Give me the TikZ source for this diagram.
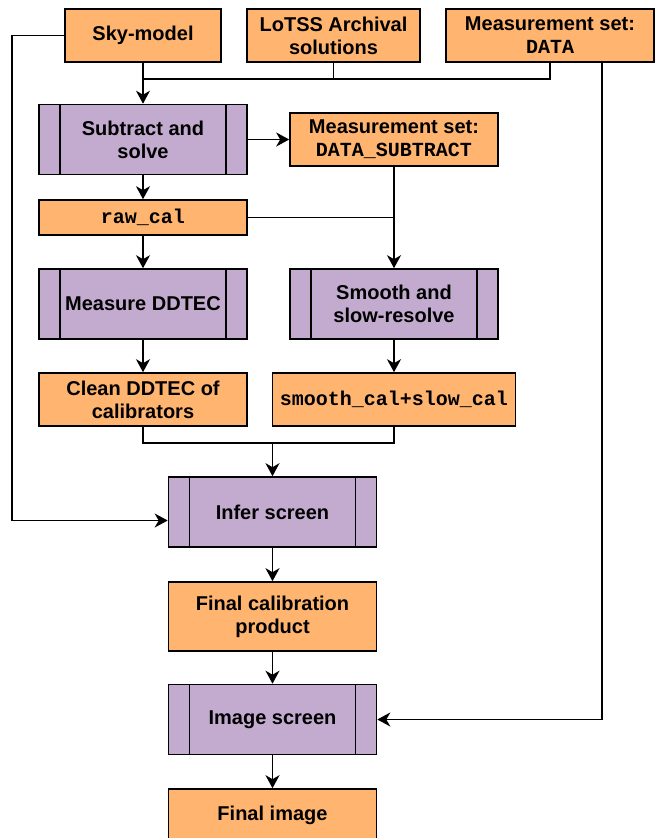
\documentclass[tikz,border=0pt]{standalone}
\usepackage{fontspec}
\setmainfont{Liberation Sans}
\setmonofont{Liberation Mono}
\usetikzlibrary{arrows.meta}
\definecolor{dtfill}{HTML}{FFB570}
\definecolor{prfill}{HTML}{C3ABD0}

\begin{document}
\begin{tikzpicture}[
x=1pt, y=-1pt,
line width=1.6pt,
font=\fontsize{20}{23}\selectfont\bfseries,
>={Stealth[length=13pt,width=14pt,inset=4pt]}
]

\tikzstyle{dt} = [draw, fill=dtfill, shape=rectangle, inner sep=0pt, align=center, minimum width=208, minimum height=53]
\tikzstyle{pr} = [draw, fill=prfill, shape=rectangle, inner sep=0pt, align=center, minimum width=208, minimum height=70,
  path picture={\draw[line width=1.6pt] ([xshift=21pt]path picture bounding box.north west) -- ([xshift=21pt]path picture bounding box.south west);
  \draw[line width=1.6pt] ([xshift=-21pt]path picture bounding box.north east) -- ([xshift=-21pt]path picture bounding box.south east);}]

\useasboundingbox (0,0) rectangle (659,838);

\node[dt, minimum width=156] (sky) at (143,35.5) {Sky-model};
\node[dt, minimum width=173] (lotss) at (333.5,35.5) {LoTSS Archival\\solutions};
\node[dt] (msdata) at (550,35.5) {Measurement set:\\\texttt{DATA}};
\node[pr] (subtract) at (143,139.5) {Subtract and\\solve};
\node[dt] (mssub) at (394,139.5) {Measurement set:\\\texttt{DATA\_SUBTRACT}};
\node[dt, minimum height=35] (rawcal) at (143,217.5) {\texttt{raw\_cal}};
\node[pr] (measure) at (143,304) {Measure DDTEC};
\node[pr] (smooth) at (394,304) {Smooth and\\slow-resolve};
\node[dt] (clean) at (143,399.5) {Clean DDTEC of\\calibrators};
\node[dt, minimum width=243] (smoothcal) at (394,399.5) {\texttt{smooth\_cal+slow\_cal}};
\node[pr] (infer) at (272.5,512) {Infer screen};
\node[dt, minimum height=69] (finalcal) at (272.5,616.5) {Final calibration\\product};
\node[pr] (imgscreen) at (272.5,719.5) {Image screen};
\node[dt] (finalimg) at (272.5,815.5) {Final image};

\coordinate (join1) at (143,79);
\coordinate (join2) at (272.5,443);

\draw (lotss.south) |- (join1);
\draw (msdata.south) |- (join1);
\draw[->] (sky.south) -- (subtract.north);
\draw[->] (subtract.east) -- (mssub.west);
\draw[->] (subtract) -- (rawcal);
\draw[->] (mssub) -- (smooth);
\draw (rawcal.east) -- (rawcal.east -| mssub.south);
\draw[->] (rawcal) -- (measure);
\draw[->] (measure) -- (clean);
\draw[->] (smooth) -- (smoothcal);
\draw (clean.south) |- (join2);
\draw (smoothcal.south) |- (join2);
\draw[->] (join2) -- (infer.north);
\draw[->] (sky.west) -- ++(-52.3,0) |- ([yshift=-8.5pt]infer.west);
\draw[->] (infer) -- (finalcal);
\draw[->] (finalcal) -- (imgscreen);
\draw[->] (imgscreen) -- (finalimg);
\draw[->] ([xshift=52pt]msdata.south) |- (imgscreen.east);
\end{tikzpicture}
\end{document}
